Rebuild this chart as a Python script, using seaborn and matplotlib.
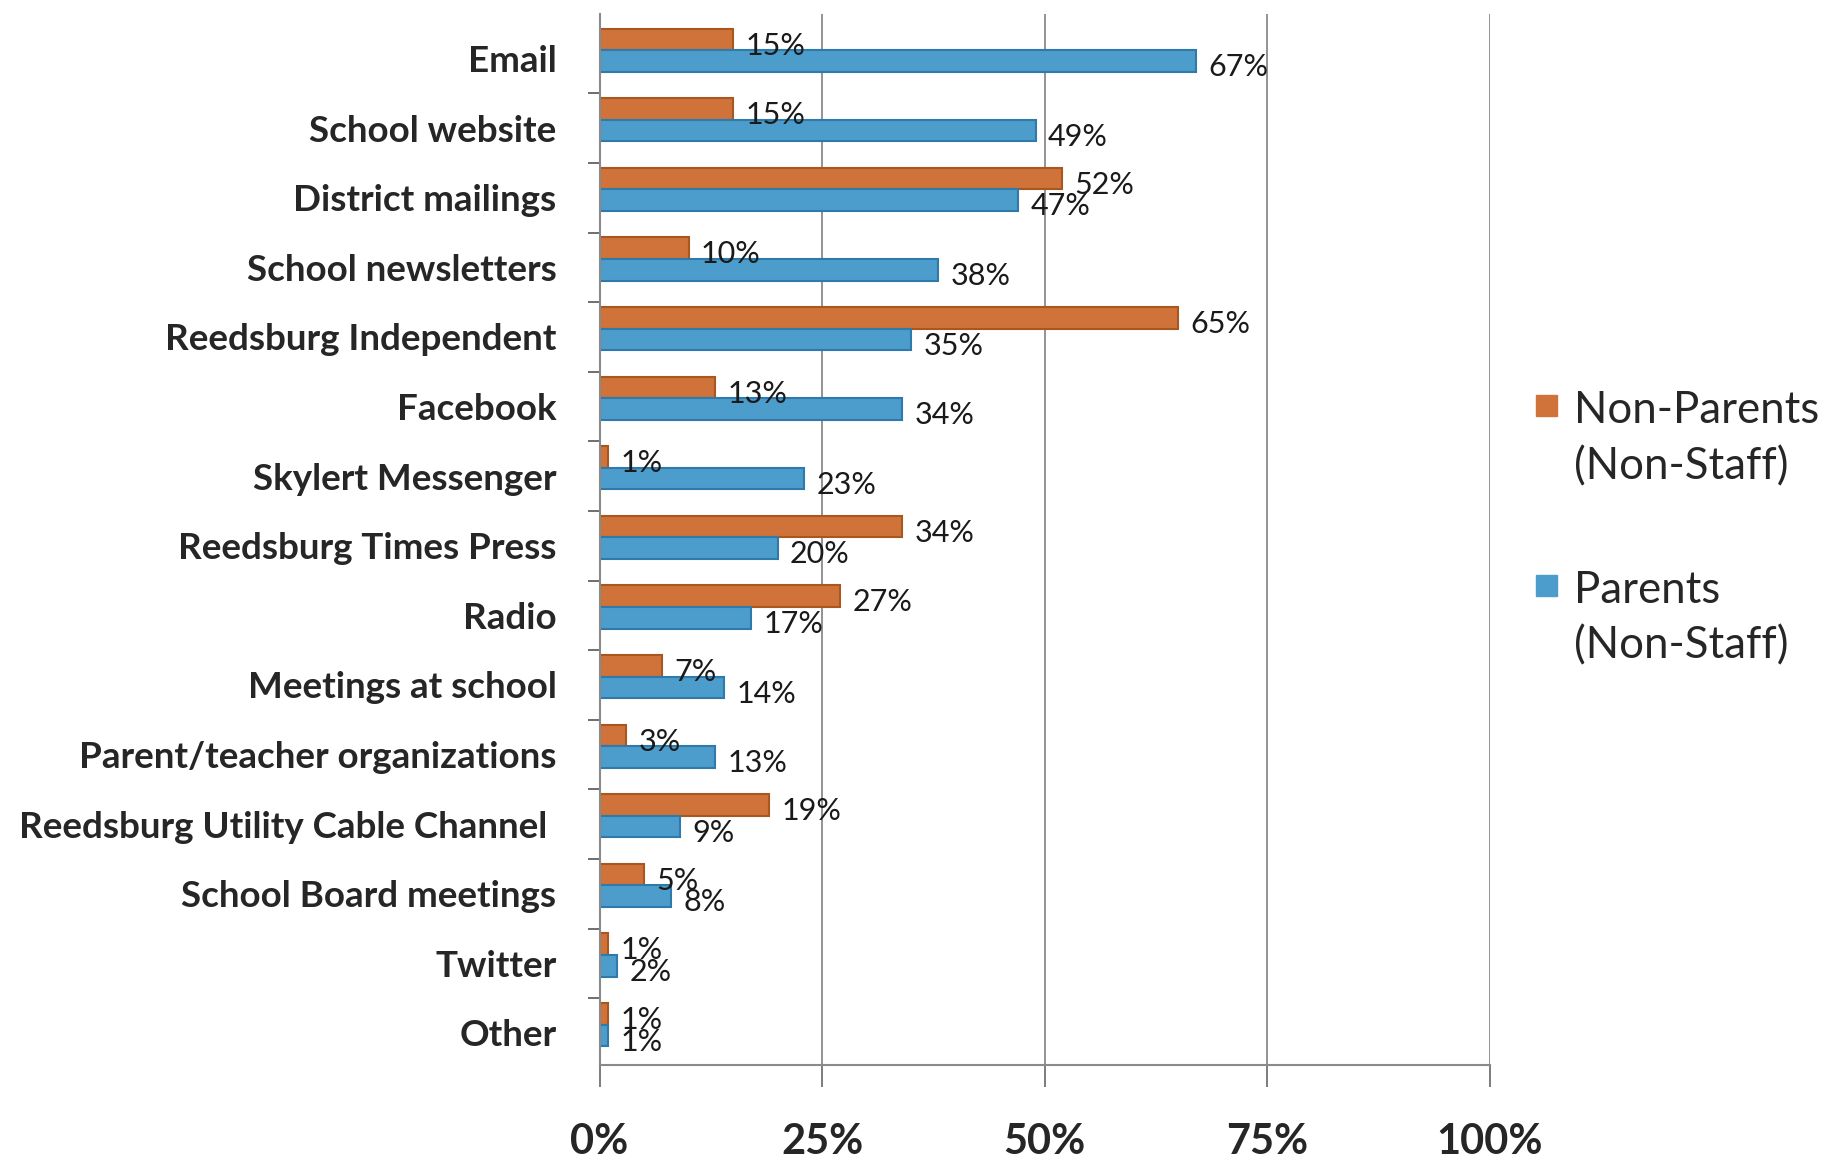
import numpy as np
import pandas as pd
import matplotlib
matplotlib.use('Agg')
import matplotlib.pyplot as plt
from matplotlib.patches import Rectangle
import seaborn as sns

categories = ["Email", "School website", "District mailings", "School newsletters",
              "Reedsburg Independent", "Facebook", "Skylert Messenger",
              "Reedsburg Times Press", "Radio", "Meetings at school",
              "Parent/teacher organizations", "Reedsburg Utility Cable Channel ",
              "School Board meetings", "Twitter", "Other"]
non_parents = [15, 15, 52, 10, 65, 13, 1, 34, 27, 7, 3, 19, 5, 1, 1]
parents = [67, 49, 47, 38, 35, 34, 23, 20, 17, 14, 13, 9, 8, 2, 1]
series = ["Non-Parents\n(Non-Staff)", "Parents\n(Non-Staff)"]
x_ticks = [0, 25, 50, 75, 100]

ORANGE = "#D0733A"
BLUE = "#4C9DCB"
ORANGE_EDGE = "#A9561F"
BLUE_EDGE = "#2F7AAA"

df = pd.DataFrame({
    "channel": categories * 2,
    "group": [series[0]] * len(categories) + [series[1]] * len(categories),
    "pct": non_parents + parents,
})

sns.set_style("white")
plt.rcParams['font.family'] = ['Lato', 'DejaVu Sans']

fig = plt.figure(figsize=(18.39, 11.62), dpi=100)
ax = fig.add_axes([0.326, 0.0835, 0.484, 0.9045])

sns.barplot(data=df, y="channel", x="pct", hue="group", order=categories,
            hue_order=series, palette=[ORANGE, BLUE], width=0.62,
            orient="h", legend=False, ax=ax, saturation=1)

# darker rim to hint at the 3D look of the original
for cont, edge in zip(ax.containers, [ORANGE_EDGE, BLUE_EDGE]):
    for bar in cont:
        bar.set_edgecolor(edge)
        bar.set_linewidth(1.5)
        w = bar.get_width()
        yc = bar.get_y() + bar.get_height() / 2
        ax.text(w + 1.4, yc + 0.09, f"{w:.0f}%", fontsize=22,
                va="center", ha="left", color="#1a1a1a")

n = len(categories)
ax.set_xlim(0, 100)
ax.set_ylim(n - 0.42, -0.52)
ax.set_xticks(x_ticks)
ax.set_xticklabels([f"{t}%" for t in x_ticks], fontsize=30, fontweight="bold")
ax.set_yticks(np.arange(n) + 0.12)
ax.set_yticklabels(categories, fontsize=26.5, fontweight="bold")
ax.set_yticks(np.arange(n - 1) + 0.62, minor=True)
ax.tick_params(axis="y", which="major", length=0, pad=31)
ax.tick_params(axis="y", which="minor", length=9, color="#555555", width=1.2, left=True)
ax.tick_params(axis="x", length=16, color="#666666", width=1.2, pad=26, bottom=True)
ax.set_xlabel("")
ax.set_ylabel("")

ax.grid(False)
for t in x_ticks[1:]:
    ax.axvline(t, color="#8a8a8a", lw=1.3, zorder=0)

for side in ["top", "right"]:
    ax.spines[side].set_visible(False)
for side in ["left", "bottom"]:
    ax.spines[side].set_color("#8a8a8a")
    ax.spines[side].set_linewidth(1.5)

# legend drawn by hand so the swatch sits on the first line
fig.patches.append(Rectangle((0.835, 0.642), 0.0114, 0.018, color=ORANGE,
                             transform=fig.transFigure, figure=fig))
fig.patches.append(Rectangle((0.835, 0.487), 0.0114, 0.018, color=BLUE,
                             transform=fig.transFigure, figure=fig))
fig.text(0.856, 0.647, "Non-Parents", fontsize=31.5, va="center", ha="left")
fig.text(0.856, 0.598, "(Non-Staff)", fontsize=31.5, va="center", ha="left")
fig.text(0.856, 0.492, "Parents", fontsize=31.5, va="center", ha="left")
fig.text(0.856, 0.444, "(Non-Staff)", fontsize=31.5, va="center", ha="left")

fig.savefig("out.png", dpi=100)
